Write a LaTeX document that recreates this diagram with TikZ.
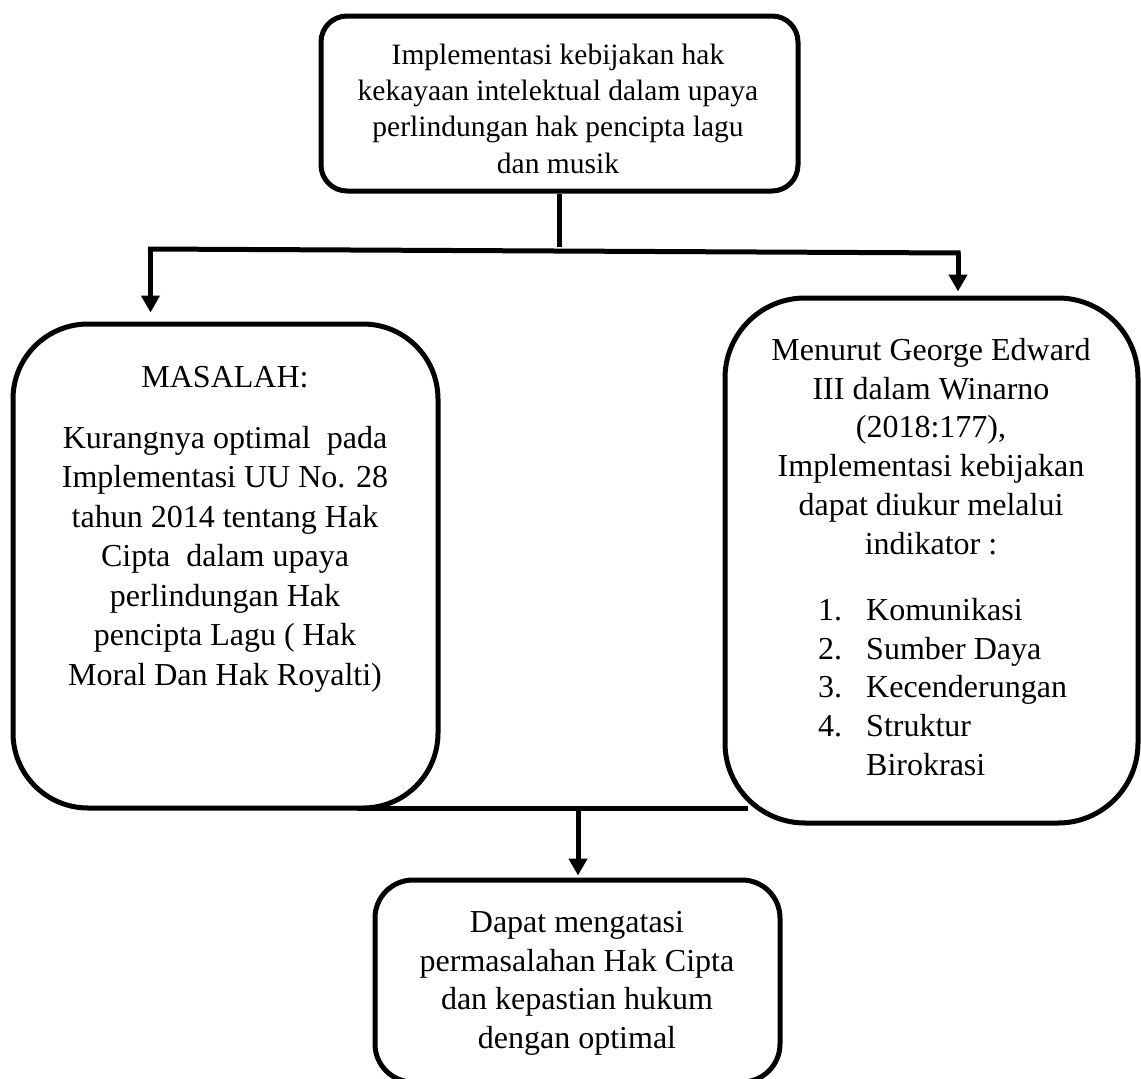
\documentclass[tikz,border=0pt]{standalone}
\usepackage{fontspec}
\setmainfont{Liberation Serif}
\usetikzlibrary{arrows.meta}
\newcommand{\firstline}{\rule{0pt}{25pt}}
\begin{document}
\begin{tikzpicture}[x=1pt,y=-1pt,
  box/.style={draw, line width=5pt, inner sep=0pt, rounded corners=#1},
  txt/.style={inner sep=0pt, align=center, font=\fontsize{32}{38.8}\selectfont},
  conn/.style={line width=5pt},
  arr/.style={line width=5pt, -{Triangle[length=17pt,width=18pt]}}]
\useasboundingbox[fill=white] (0,0) rectangle (1141,1079);
% boxes
\node[box=26pt, minimum width=477pt, minimum height=175pt] (top) at (559.5,103.5) {};
\node[box=75pt, minimum width=425pt, minimum height=484pt] (left) at (225.5,566) {};
\node[box=80pt, minimum width=413pt, minimum height=525pt] (right) at (931.5,560.5) {};
\node[box=38pt, minimum width=405pt, minimum height=202pt] (bottom) at (577.5,981) {};
% texts
\node[txt, anchor=north, font=\fontsize{29.5}{36.3}\selectfont] (toptxt) at (558,39)
  {\firstline Implementasi kebijakan hak\\kekayaan intelektual dalam upaya\\perlindungan hak pencipta lagu\\dan musik};
\node[txt, anchor=base] (masalah) at (225,387) {MASALAH:};
\node[txt, anchor=north, font=\fontsize{32}{39.5}\selectfont] (lefttxt) at (225,423)
  {\firstline Kurangnya optimal\ \ pada\\Implementasi UU No. 28\\tahun 2014 tentang Hak\\Cipta\ \ dalam upaya\\perlindungan Hak\\pencipta Lagu ( Hak\\Moral Dan Hak Royalti)};
\node[txt, anchor=north] (righttxt) at (931,335)
  {\firstline Menurut George Edward\\III dalam Winarno\\(2018:177),\\Implementasi kebijakan\\dapat diukur melalui\\indikator :};
\node[txt, anchor=north west, align=left] (list) at (818,595)
  {\firstline\makebox[48pt][l]{1.}Komunikasi\\\makebox[48pt][l]{2.}Sumber Daya\\\makebox[48pt][l]{3.}Kecenderungan\\\makebox[48pt][l]{4.}Struktur\\\makebox[48pt][l]{}Birokrasi};
\node[txt, anchor=north] (bottomtxt) at (577,907)
  {\firstline Dapat mengatasi\\permasalahan Hak Cipta\\dan kepastian hukum\\dengan optimal};
% connectors
\coordinate (cl) at (150.5,249);
\coordinate (cr) at (958,253);
\coordinate (bl) at (357,808);
\coordinate (br) at (748,808);
\coordinate (bm) at (578,808);
\draw[conn] (top.south) -- ([yshift=2pt]top.south |- cl);
\draw[conn] ([xshift=-2.5pt]cl) -- ([xshift=2.5pt]cr);
\draw[arr, shorten >=9pt] (cl) -- (cl |- left.north);
\draw[arr, shorten >=4pt] (cr) -- (cr |- right.north);
\draw[conn] (bl) -- (br);
\draw[arr, shorten >=2pt] (bm) -- (bm |- bottom.north);
\end{tikzpicture}
\end{document}
